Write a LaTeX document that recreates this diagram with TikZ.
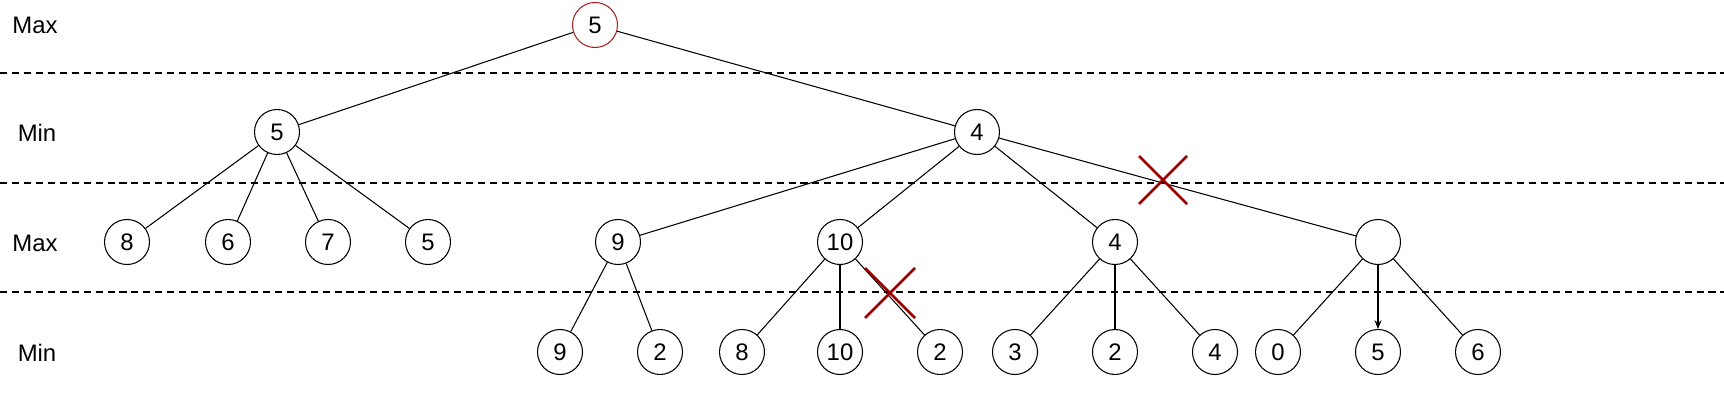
\documentclass[tikz,border=0pt]{standalone}
\usepackage{fontspec}
\setmainfont{Liberation Sans}
\usetikzlibrary{arrows.meta}
\definecolor{xred}{HTML}{990000}
\definecolor{rootred}{HTML}{A52020}
\begin{document}
\begin{tikzpicture}[x=0.02cm,y=-0.02cm,
  every node/.style={font=\fontsize{13.6}{16}\selectfont},
  nd/.style={circle,draw,line width=0.6pt,minimum size=45*0.02cm,inner sep=0pt},
  lbl/.style={anchor=center},
  edge/.style={line width=0.6pt},
  sep/.style={line width=1.1pt,dash pattern=on 4pt off 2.8pt},
  cross/.style={xred,line width=1.5pt}]
\useasboundingbox (0,0) rectangle (1724,412);
% separators
\draw[sep] (0,73) -- (1724,73);
\draw[sep] (0,183) -- (1724,183);
\draw[sep] (0,292) -- (1724,292);
% level labels
\node[lbl] (l0) at (35,25) {Max};
\node[lbl] (l1) at (37,133) {Min};
\node[lbl] (l2) at (35,243) {Max};
\node[lbl] (l3) at (37,353) {Min};
% nodes
\node[nd,draw=rootred] (r) at (595,25) {5};
\node[nd] (a) at (277,132) {5};
\node[nd] (b) at (977,132) {4};
\node[nd] (a1) at (127,242) {8};
\node[nd] (a2) at (228,242) {6};
\node[nd] (a3) at (328,242) {7};
\node[nd] (a4) at (428,242) {5};
\node[nd] (b1) at (618,242) {9};
\node[nd] (b2) at (840,242) {10};
\node[nd] (b3) at (1115,242) {4};
\node[nd] (b4) at (1378,242) {};
\node[nd] (c1) at (560,352) {9};
\node[nd] (c2) at (660,352) {2};
\node[nd] (c3) at (742,352) {8};
\node[nd] (c4) at (840,352) {10};
\node[nd] (c5) at (940,352) {2};
\node[nd] (c6) at (1015,352) {3};
\node[nd] (c7) at (1115,352) {2};
\node[nd] (c8) at (1215,352) {4};
\node[nd] (c9) at (1278,352) {0};
\node[nd] (c10) at (1378,352) {5};
\node[nd] (c11) at (1478,352) {6};
% edges
\draw[edge] (r) -- (a);
\draw[edge] (r) -- (b);
\foreach \t in {a1,a2,a3,a4} \draw[edge] (a) -- (\t);
\foreach \t in {b1,b2,b3,b4} \draw[edge] (b) -- (\t);
\foreach \t in {c1,c2} \draw[edge] (b1) -- (\t);
\foreach \t in {c3,c4,c5} \draw[edge] (b2) -- (\t);
\foreach \t in {c6,c7,c8} \draw[edge] (b3) -- (\t);
\foreach \t in {c9,c11} \draw[edge] (b4) -- (\t);
\draw[edge,-{Stealth[length=5pt,width=4pt]}] (b4) -- (c10);
% crosses
\coordinate (x1) at (1163,180);
\coordinate (x2) at (890,293);
\draw[cross] ([shift={(-24,-24)}]x1) -- ([shift={(24,24)}]x1);
\draw[cross] ([shift={(-24,24)}]x1) -- ([shift={(24,-24)}]x1);
\draw[cross] ([shift={(-25,-25)}]x2) -- ([shift={(25,25)}]x2);
\draw[cross] ([shift={(-25,25)}]x2) -- ([shift={(25,-25)}]x2);
\end{tikzpicture}
\end{document}
